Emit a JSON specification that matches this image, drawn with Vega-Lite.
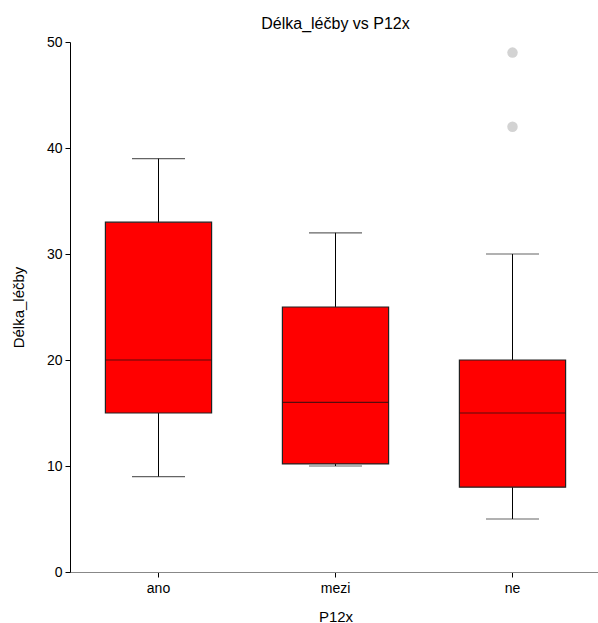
{
  "$schema": "https://vega.github.io/schema/vega-lite/v6.json",
  "autosize": {"type": "none"},
  "padding": {"left": 70, "top": 42, "right": 0, "bottom": 51},
  "width": 531,
  "height": 530,
  "background": "white",
  "title": {"text": "Délka_léčby vs P12x", "font": "Liberation Sans", "fontSize": 16, "fontWeight": "normal", "color": "black", "offset": 3},
  "datasets": {
    "boxes": [
      {"P12x": "ano", "lower": 9, "q1": 15, "median": 20, "q3": 33, "upper": 39},
      {"P12x": "mezi", "lower": 10, "q1": 10.2, "median": 16, "q3": 25, "upper": 32},
      {"P12x": "ne", "lower": 5, "q1": 8, "median": 15, "q3": 20, "upper": 30}
    ],
    "outliers": [
      {"P12x": "ne", "value": 42},
      {"P12x": "ne", "value": 49}
    ]
  },
  "config": {
    "view": {"stroke": null},
    "axis": {"labelFont": "Liberation Sans", "titleFont": "Liberation Sans", "labelFontSize": 14, "titleFontSize": 15, "titleFontWeight": "normal", "labelColor": "black", "titleColor": "black", "grid": false}
  },
  "layer": [
    {
      "data": {"name": "boxes"},
      "mark": {"type": "rule", "color": "black", "strokeWidth": 1},
      "encoding": {
        "x": {"field": "P12x", "type": "nominal", "scale": {"paddingInner": 0, "paddingOuter": 0}, "axis": {"labelAngle": 0, "title": "P12x", "domainColor": "#888888", "tickColor": "black", "tickSize": 5, "labelPadding": 4, "titlePadding": 14}},
        "y": {"field": "lower", "type": "quantitative", "scale": {"domain": [0, 50], "nice": false}, "axis": {"values": [0, 10, 20, 30, 40, 50], "title": "Délka_léčby", "domainColor": "black", "tickColor": "black", "tickSize": 5, "labelPadding": 3, "titlePadding": 20}},
        "y2": {"field": "upper"}
      }
    },
    {
      "data": {"name": "boxes"},
      "mark": {"type": "bar", "color": "#ff0000", "stroke": "#222222", "strokeWidth": 1.2, "width": {"band": 0.6}},
      "encoding": {
        "x": {"field": "P12x", "type": "nominal"},
        "y": {"field": "q1", "type": "quantitative"},
        "y2": {"field": "q3"}
      }
    },
    {
      "data": {"name": "boxes"},
      "mark": {"type": "tick", "color": "#111111", "thickness": 1.2, "size": 106},
      "encoding": {
        "x": {"field": "P12x", "type": "nominal"},
        "y": {"field": "median", "type": "quantitative"}
      }
    },
    {
      "data": {"name": "boxes"},
      "mark": {"type": "tick", "color": "#222222", "thickness": 1.2, "size": 53},
      "encoding": {
        "x": {"field": "P12x", "type": "nominal"},
        "y": {"field": "lower", "type": "quantitative"}
      }
    },
    {
      "data": {"name": "boxes"},
      "mark": {"type": "tick", "color": "#222222", "thickness": 1.2, "size": 53},
      "encoding": {
        "x": {"field": "P12x", "type": "nominal"},
        "y": {"field": "upper", "type": "quantitative"}
      }
    },
    {
      "data": {"name": "outliers"},
      "mark": {"type": "circle", "color": "#d3d3d3", "opacity": 1, "size": 110},
      "encoding": {
        "x": {"field": "P12x", "type": "nominal"},
        "y": {"field": "value", "type": "quantitative"}
      }
    }
  ]
}
